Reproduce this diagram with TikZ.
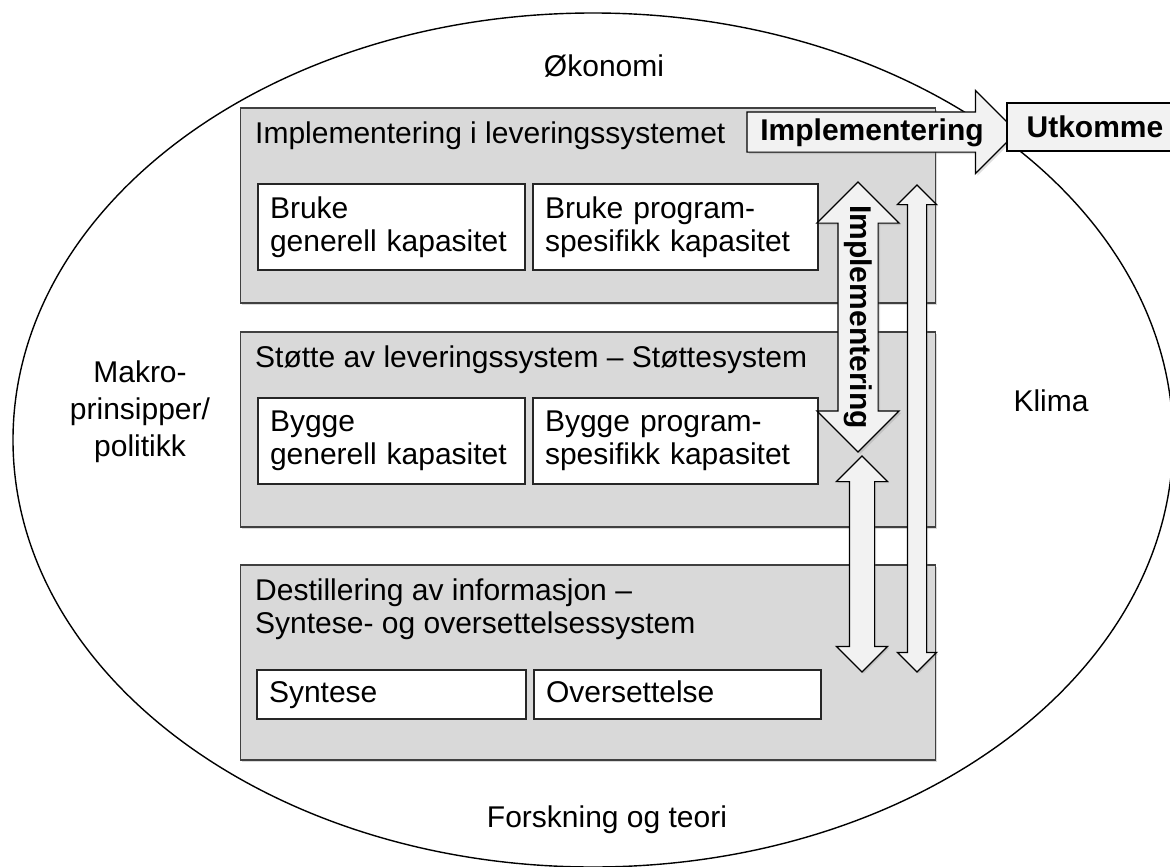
\documentclass[tikz,border=0pt]{standalone}
\usepackage{fontspec}
\setmainfont{Liberation Sans}
\usetikzlibrary{shapes.geometric,shapes.arrows,shadows}

\tikzstyle{layer} = [rectangle, minimum width=695pt, minimum height=195pt, draw=black!75, line width=1.2pt, fill=black!15, drop shadow={shadow xshift=1.5pt, shadow yshift=-1.5pt, opacity=0.3}]
\tikzstyle{capbox} = [rectangle, minimum height=86pt, inner xsep=12pt, align=left, draw=black!85, line width=1.2pt, fill=white]
\tikzstyle{heading} = [anchor=base west, inner sep=0pt, align=left]
\tikzstyle{side} = [align=center, font=\fontsize{30}{37}\selectfont]
\tikzstyle{bigarrow} = [draw=black, line width=1.2pt, fill=black!5, font=\fontsize{30}{33}\selectfont\bfseries, text height=22pt, text depth=6pt, inner xsep=0pt, inner ysep=5.5pt, drop shadow={shadow xshift=2pt, shadow yshift=-2pt, opacity=0.25}]
\tikzstyle{thinarrow} = [double arrow, draw=black, line width=1.2pt, fill=black!5, inner xsep=0pt, rotate=90, drop shadow={shadow xshift=1.5pt, shadow yshift=-1.5pt, opacity=0.25}]

\begin{document}
\begin{tikzpicture}[x=1pt, y=-1pt, font=\fontsize{30}{33}\selectfont]
\useasboundingbox (0,0) rectangle (1170,867);

% outer context
\node (env) [ellipse, draw, line width=1.4pt, minimum width=1160pt, minimum height=854pt] at (593,440) {};
\node (oko) [anchor=base] at (604,77) {Økonomi};
\node (fors) [anchor=base] at (607,827) {Forskning og teori};
\node (makro) [side] at (140,412) {Makro-\\prinsipper/\\politikk};
\node (klima) [side, anchor=base] at (1051,411) {Klima};

% the three layers
\node (lay1) [layer] at (588,205.5) {};
\node (lay2) [layer] at (588,429.5) {};
\node (lay3) [layer] at (588,662.5) {};

\node (head1) [heading] at (255,143) {Implementering i leveringssystemet};
\node (head2) [heading] at (255,367) {Støtte av leveringssystem – Støttesystem};
\node (head3) [heading] at (255,633) {Destillering av informasjon –\\Syntese- og oversettelsessystem};

\node (cap1a) [capbox, text width=243pt] at (391.5,227) {Bruke\\generell kapasitet};
\node (cap1b) [capbox, text width=261pt] at (675.5,227) {Bruke program-\\spesifikk kapasitet};
\node (cap2a) [capbox, text width=243pt] at (391.5,441) {Bygge\\generell kapasitet};
\node (cap2b) [capbox, text width=261pt] at (675.5,441) {Bygge program-\\spesifikk kapasitet};
\node (cap3a) [capbox, text width=245pt, minimum height=49pt, text height=22pt, text depth=6pt] at (391.5,694.5) {Syntese};
\node (cap3b) [capbox, text width=263pt, minimum height=49pt, text height=22pt, text depth=6pt] at (677.5,694.5) {Oversettelse};

% block arrows
\node (impv) [bigarrow, double arrow, double arrow head extend=21pt, minimum width=81pt, minimum height=270pt, rotate=-90] at (858,317) {Implementering};
\node (lnk1) [thinarrow, double arrow head extend=10pt, inner ysep=9pt, minimum width=38pt, minimum height=487pt] at (917,428.5) {};
\node (lnk2) [thinarrow, double arrow head extend=13pt, inner ysep=12pt, minimum width=50pt, minimum height=216pt] at (862,564) {};
\node (imph) [bigarrow, single arrow, single arrow head extend=21.5pt, minimum width=81pt, minimum height=270pt] at (872,132) {Implementering};

\node (utk) [rectangle, draw=black, line width=1.2pt, fill=black!5, font=\fontsize{30}{33}\selectfont\bfseries, minimum width=176pt, minimum height=48pt] at (1095,127) {Utkomme};
\end{tikzpicture}
\end{document}
